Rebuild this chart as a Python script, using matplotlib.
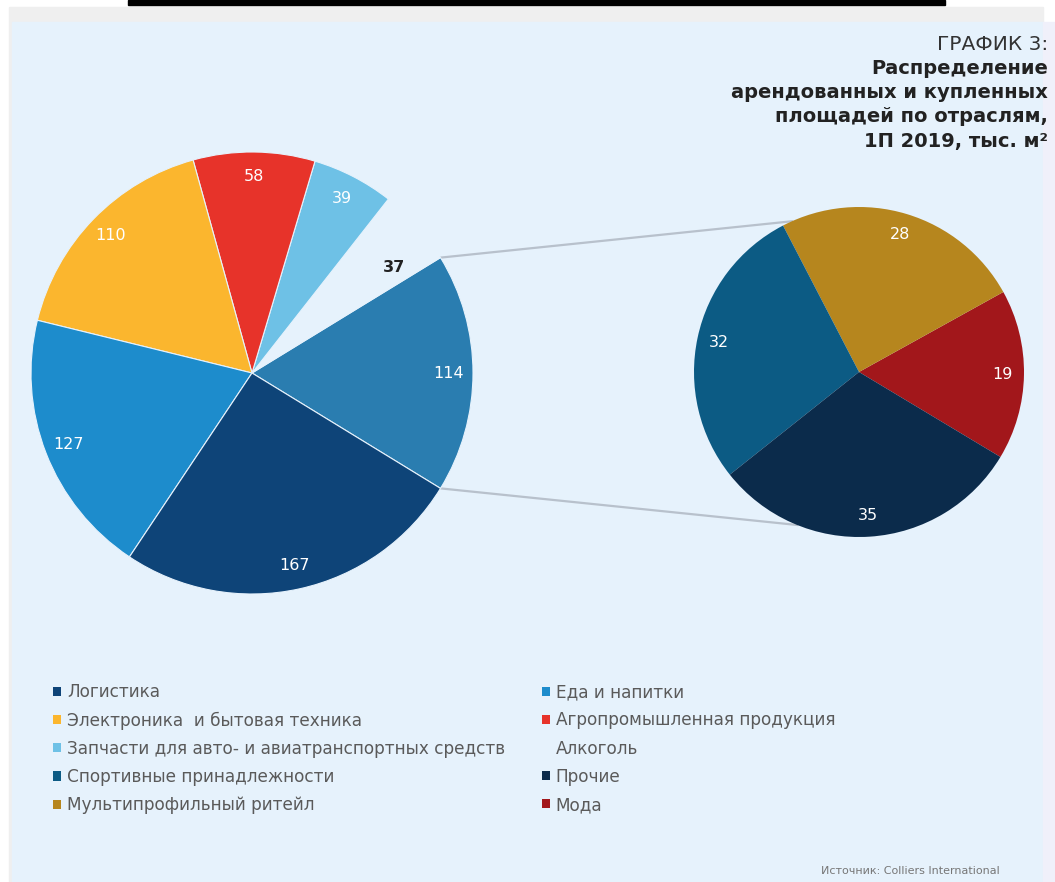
import matplotlib.pyplot as plt
from matplotlib.patches import Patch, Rectangle
import numpy as np

plt.rcParams['font.family'] = ['DejaVu Sans']

# Leased and purchased space by industry, 1H 2019, thousand m2
categories = [
    "Логистика",
    "Еда и напитки",
    "Электроника  и бытовая техника",
    "Агропромышленная продукция",
    "Запчасти для авто- и авиатранспортных средств",
    "Алкоголь",
    "Спортивные принадлежности",
    "Прочие",
    "Мультипрофильный ритейл",
    "Мода",
]
values = [167, 127, 110, 58, 39, 37, 32, 35, 28, 19]
colors = [
    "#0e4478", "#1d8ccc", "#fbb62e", "#e7332a", "#6ec1e6",
    "#e6f2fc", "#0c5b84", "#0b2b4b", "#b6861e", "#a2171b",
]
other_color = "#2a7db0"

# first six go to the main pie, the rest are grouped into one slice
n_main = 6
main_idx = [5, 4, 3, 2, 1, 0]          # counter-clockwise after the grouped slice
second_idx = [9, 8, 6, 7]

title_lines = ["Распределение", "арендованных и купленных",
               "площадей по отраслям,", "1П 2019, тыс. м²"]

W, H = 1055, 882
bg = "#e6f2fc"

fig = plt.figure(figsize=(W / 100, H / 100), dpi=100)
fig.patch.set_facecolor("white")
ax = fig.add_axes([0, 0, 1, 1])
ax.axis("off")

# page background
ax.add_patch(Rectangle((9, 0), 1034, H - 7, color="#efefef", zorder=0))
ax.add_patch(Rectangle((12, 0), 1031, H - 22, color=bg, zorder=0))
ax.add_patch(Rectangle((1043, 0), 12, H - 22, color="#f0f0fa", zorder=0))
ax.add_patch(Rectangle((128, H - 5), 817, 5, color="black", zorder=0))

other_total = sum(values[i] for i in range(n_main, len(values)))
main_vals = [other_total] + [values[i] for i in main_idx]
main_cols = [other_color] + [colors[i] for i in main_idx]
main_total = sum(main_vals)
half = 360 * other_total / main_total / 2

c1, r1 = (252, H - 373), 221
wedges, _, auto = ax.pie(
    main_vals, colors=main_cols, startangle=-half, counterclock=True,
    center=c1, radius=r1, pctdistance=0.89,
    autopct=lambda p: f"{p * main_total / 100:.0f}",
    wedgeprops=dict(edgecolor=bg, linewidth=0.8),
    textprops=dict(color="white", fontsize=11.5),
)

# the alcohol slice blends into the background, its label goes dark
w_alc = wedges[1]
ang = np.deg2rad(w_alc.theta1 + 0.25 * (w_alc.theta2 - w_alc.theta1))
auto[1].set_position((c1[0] + 0.8 * r1 * np.cos(ang), c1[1] + 0.8 * r1 * np.sin(ang)))
auto[1].set_color("#222222")
auto[1].set_fontweight("bold")

sec_vals = [values[i] for i in second_idx]
sec_cols = [colors[i] for i in second_idx]
sec_total = sum(sec_vals)
c2, r2 = (859, H - 372), 165
ax.pie(
    sec_vals, colors=sec_cols, startangle=-31, counterclock=True,
    center=c2, radius=r2, pctdistance=0.87,
    autopct=lambda p: f"{p * sec_total / 100:.0f}",
    wedgeprops=dict(edgecolor="none"),
    textprops=dict(color="white", fontsize=11.5),
)
ax.set_aspect("equal")
ax.set_xlim(0, W)
ax.set_ylim(0, H)

# connector lines from the grouped slice to the secondary pie
for a1, a2 in [(half, 114), (-half, -112)]:
    p1 = (c1[0] + r1 * np.cos(np.deg2rad(a1)), c1[1] + r1 * np.sin(np.deg2rad(a1)))
    p2 = (c2[0] + r2 * np.cos(np.deg2rad(a2)), c2[1] + r2 * np.sin(np.deg2rad(a2)))
    ax.plot([p1[0], p2[0]], [p1[1], p2[1]], color="#b8c1cc", lw=1.6, zorder=0.5)

# heading
ax.text(1048, H - 45, "ГРАФИК 3:", ha="right", va="center",
        fontsize=14.5, color="#333333")
for k, line in enumerate(title_lines):
    ax.text(1048, H - 69 - 24 * k, line, ha="right", va="center",
            fontsize=14, fontweight="bold", color="#222222")

# legend laid out row by row in two columns
handles = [Patch(facecolor=colors[i], edgecolor="none", label=categories[i])
           for i in range(len(categories))]
order = [0, 2, 4, 6, 8, 1, 3, 5, 7, 9]
ax.legend([handles[i] for i in order], [categories[i] for i in order],
          ncol=2, loc="upper left", bbox_to_anchor=(38 / W, 1 - 668 / H),
          frameon=False, fontsize=12.2, labelcolor="#5a5a5a",
          handlelength=0.45, handleheight=0.45, handletextpad=0.35,
          labelspacing=0.6, columnspacing=2.2)

ax.text(1000, H - 871, "Источник: Colliers International", ha="right",
        va="center", fontsize=8, color="#777777")

fig.savefig("out.png", dpi=100, facecolor=fig.get_facecolor())
